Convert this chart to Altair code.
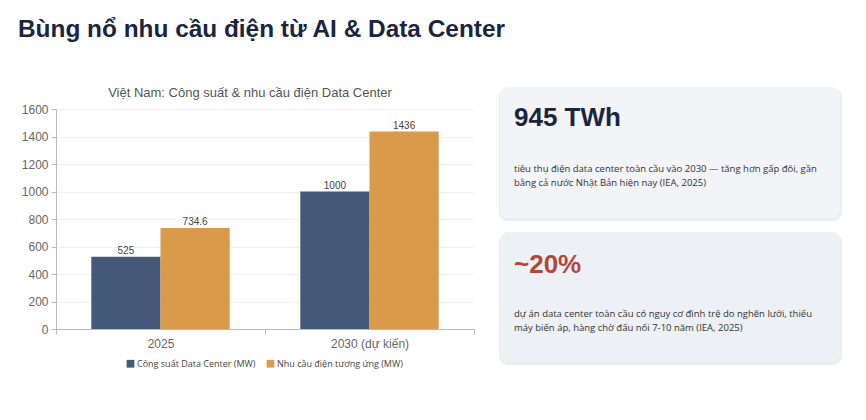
import altair as alt
import pandas as pd

# ---- data ----
categories = ["2025", "2030 (dự kiến)"]
series_names = ["Công suất Data Center (MW)", "Nhu cầu điện tương ứng (MW)"]
capacity_mw = [525, 1000]
demand_mw = [734.6, 1436]
value_labels_cap = ["525", "1000"]
value_labels_dem = ["734.6", "1436"]
y_ticks = [0, 200, 400, 600, 800, 1000, 1200, 1400, 1600]

main_title = "Bùng nổ nhu cầu điện từ AI & Data Center"
chart_title = "Việt Nam: Công suất & nhu cầu điện Data Center"
card1_big = "945 TWh"
card1_text = ["tiêu thụ điện data center toàn cầu vào 2030 — tăng hơn gấp đôi, gần",
              "bằng cả nước Nhật Bản hiện nay (IEA, 2025)"]
card2_big = "~20%"
card2_text = ["dự án data center toàn cầu có nguy cơ đình trệ do nghẽn lưới, thiếu",
              "máy biến áp, hàng chờ đấu nối 7-10 năm (IEA, 2025)"]

colors = ["#44587a", "#da9a4b"]

rows = []
for i, c in enumerate(categories):
    rows.append({"cat": c, "series": series_names[0], "value": capacity_mw[i], "label": value_labels_cap[i]})
    rows.append({"cat": c, "series": series_names[1], "value": demand_mw[i], "label": value_labels_dem[i]})
df = pd.DataFrame(rows)

base = alt.Chart(df).encode(
    x=alt.X("cat:N", sort=categories, title=None,
            scale=alt.Scale(paddingInner=0, paddingOuter=0),
            axis=alt.Axis(labelAngle=0, labelFontSize=12, labelColor="#666", labelFont="Liberation Sans",
                          tickBand="extent", domainColor="#bbb", tickColor="#bbb", tickSize=5,
                          labelPadding=4, grid=False)),
    xOffset=alt.XOffset("series:N", sort=series_names, scale=alt.Scale(paddingInner=0, paddingOuter=0.51)),
    y=alt.Y("value:Q", title=None,
            scale=alt.Scale(domain=[0, 1600], nice=False),
            axis=alt.Axis(values=y_ticks, format="d", labelFontSize=12, labelColor="#666",
                          labelFont="Liberation Sans",
                          domainColor="#bbb", tickColor="#bbb", tickSize=5, gridColor="#f0f0f0",
                          labelPadding=3)),
)

bars = base.mark_bar().encode(
    color=alt.Color("series:N", sort=series_names,
                    scale=alt.Scale(domain=series_names, range=colors),
                    legend=alt.Legend(title=None, orient="none", legendX=70, legendY=250,
                                      direction="horizontal", symbolType="square", symbolSize=60,
                                      symbolStrokeWidth=0, labelFontSize=9, labelColor="#444",
                                      labelFont="Open Sans", columnPadding=10, symbolOffset=0,
                                      labelOffset=2))
)
labels = base.mark_text(dy=-6, fontSize=10, color="#444", font="Liberation Sans").encode(text="label:N")

one = pd.DataFrame({"k": [0]})

def card(y0, y1, fill):
    shadow = alt.Chart(one).mark_rect(cornerRadius=9, fill="#e3e6ec", opacity=0.7).encode(
        x=alt.value(443), x2=alt.value(786), y=alt.value(y0 + 1), y2=alt.value(y1 + 3))
    body = alt.Chart(one).mark_rect(cornerRadius=8, fill=fill).encode(
        x=alt.value(444), x2=alt.value(784), y=alt.value(y0), y2=alt.value(y1))
    return [shadow, body]

layers = []
layers += card(-22, 109, "#f2f4f8")
layers += card(123, 253, "#edf0f5")

title_t = alt.Chart(one).mark_text(text=main_title, align="left", baseline="middle",
                                   fontSize=24.4, fontWeight="bold", color="#1b2540",
                                   font="Liberation Sans").encode(x=alt.value(-38), y=alt.value(-79))
sub_t = alt.Chart(one).mark_text(text=chart_title, align="center", baseline="middle",
                                 fontSize=13, color="#555", font="Liberation Sans").encode(
    x=alt.value(194), y=alt.value(-16))
c1_big = alt.Chart(one).mark_text(text=card1_big, align="left", baseline="middle",
                                  fontSize=26, fontWeight="bold", color="#1b2540",
                                  font="Liberation Sans").encode(x=alt.value(458), y=alt.value(9))
c1_txt = alt.Chart(one).mark_text(text=card1_text, align="left", baseline="middle", lineHeight=14,
                                  fontSize=9.5, color="#333", font="Open Sans").encode(
    x=alt.value(458), y=alt.value(60))
c2_big = alt.Chart(one).mark_text(text=card2_big, align="left", baseline="middle",
                                  fontSize=26, fontWeight="bold", color="#b5473a",
                                  font="Liberation Sans").encode(x=alt.value(458), y=alt.value(156))
c2_txt = alt.Chart(one).mark_text(text=card2_text, align="left", baseline="middle", lineHeight=14,
                                  fontSize=9.5, color="#333", font="Open Sans").encode(
    x=alt.value(458), y=alt.value(205))

chart = alt.layer(*layers, bars, labels, title_t, sub_t, c1_big, c1_txt, c2_big, c2_txt).properties(
    width=418, height=220,
    padding={"left": 56, "top": 109, "right": 392, "bottom": 91},
    autosize="none", background="white",
).configure_view(strokeWidth=0)

chart.save("out.html", embed_options={"renderer": "svg", "actions": False})
